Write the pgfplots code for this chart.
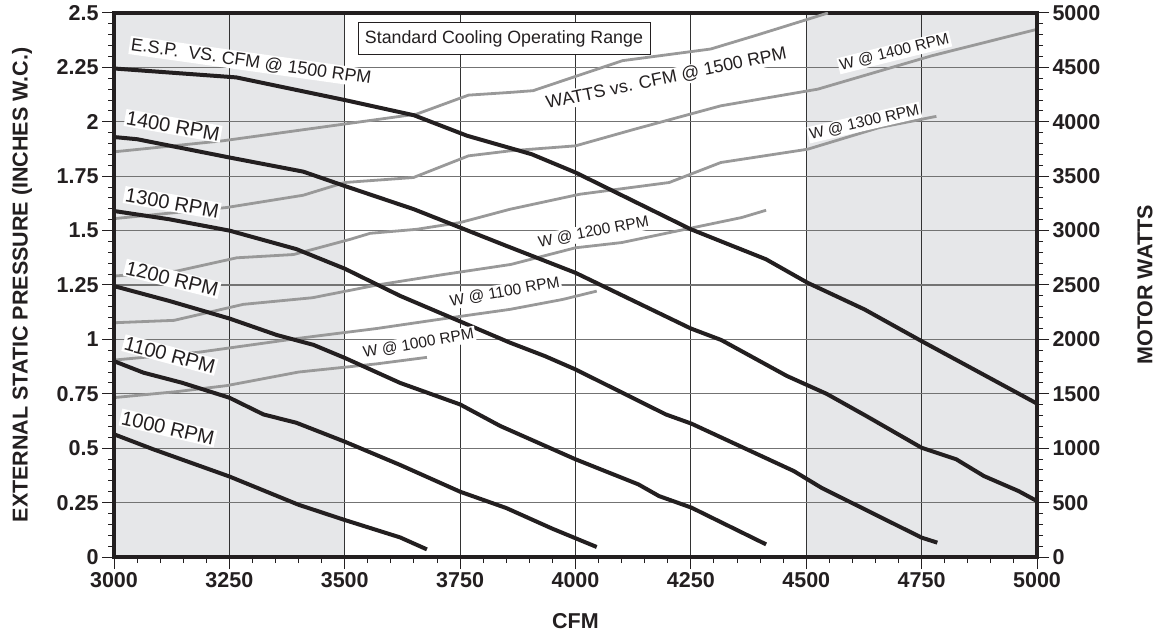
\documentclass[border=0pt]{standalone}
\usepackage{pgfplots}
\pgfplotsset{compat=1.18}
\usepackage{fontspec}
\setmainfont{Liberation Sans}
\definecolor{shade}{HTML}{E6E7E9}
\definecolor{wgray}{HTML}{999999}
\definecolor{ink}{HTML}{231F20}
\tikzset{lab/.style={fill=white, inner sep=1.5pt, text=ink}}

\begin{document}
\begin{tikzpicture}
\pgfplotsset{
  common/.style={
    at={(0pt,0pt)}, anchor=south west, scale only axis, width=923pt, height=544pt,
    xmin=3000, xmax=5000, no markers,
    tick align=outside, major tick length=12pt, minor tick length=6pt,
    tick style={ink, line width=1pt},
    axis line style={line width=4pt, ink},
    tick label style={font=\bfseries\fontsize{21.5}{24}\selectfont, text=ink},
    label style={font=\bfseries\fontsize{21.5}{24}\selectfont, text=ink},
  },
}
% ---------- right axis: motor watts ----------
\begin{axis}[common, set layers,
  ymin=0, ymax=5000,
  xtick={3000,3250,3500,3750,4000,4250,4500,4750,5000},
  xticklabels={3000,3250,3500,3750,4000,4250,4500,4750,5000},
  minor x tick num=4,
  ytick={0,500,1000,1500,2000,2500,3000,3500,4000,4500,5000},
  yticklabels={0,500,1000,1500,2000,2500,3000,3500,4000,4500,5000},
  minor y tick num=4,
  xtick pos=left, ytick pos=right, yticklabel pos=right,
  xmajorgrids, ymajorgrids,
  x grid style={line width=1pt, black!80},
  y grid style={line width=1.3pt, black!55},
  xlabel={CFM}, ylabel={MOTOR WATTS},
  xlabel style={at={(axis description cs:0.5,-0.1176)}, anchor=center},
  ylabel style={at={(axis description cs:1.117,0.5)}, anchor=center},
]
\addplot[draw=none, fill=shade, on layer=axis background] coordinates {(3000,5000) (3500,5000)} \closedcycle;
\addplot[draw=none, fill=shade, on layer=axis background] coordinates {(4500,5000) (5000,5000)} \closedcycle;

% W @ 1500
\addplot[wgray, line width=2.8pt] coordinates {(3000,3724) (3237,3826) (3656,4071) (3768,4245) (3858,4270) (3908,4286) (4102,4562) (4293,4669) (4390,4793) (4547,5000)};
% W @ 1400
\addplot[wgray, line width=2.8pt] coordinates {(3000,3110) (3244,3212) (3410,3325) (3500,3442) (3649,3488) (3768,3687) (3858,3733) (4000,3779) (4129,3933) (4315,4147) (4525,4300) (4772,4607) (5000,4850)};
% W @ 1300
\addplot[wgray, line width=2.8pt] coordinates {(3000,2582) (3136,2628) (3266,2750) (3389,2780) (3512,2920) (3555,2975) (3656,3012) (3750,3074) (3858,3196) (4009,3334) (4203,3442) (4315,3626) (4503,3748) (4659,3948) (4782,4050)};
% W @ 1200
\addplot[wgray, line width=2.8pt] coordinates {(3000,2153) (3130,2175) (3280,2322) (3430,2383) (3570,2500) (3715,2597) (3860,2689) (4000,2842) (4100,2890) (4360,3120) (4413,3187)};
% W @ 1100
\addplot[wgray, line width=2.8pt] coordinates {(3000,1810) (3180,1880) (3400,2010) (3569,2100) (3714,2190) (3858,2276) (3972,2367) (4046,2444)};
% W @ 1000
\addplot[wgray, line width=2.8pt] coordinates {(3000,1465) (3136,1520) (3244,1575) (3400,1700) (3569,1775) (3678,1835)};
\end{axis}

% ---------- left axis: external static pressure ----------
\begin{axis}[common,
  ymin=0, ymax=2.5, hide x axis,
  ytick={0,0.25,0.5,0.75,1,1.25,1.5,1.75,2,2.25,2.5},
  yticklabels={0,0.25,0.5,0.75,1,1.25,1.5,1.75,2,2.25,2.5},
  minor y tick num=4, ytick pos=left,
  ylabel={EXTERNAL STATIC PRESSURE (INCHES W.C.)},
  ylabel style={at={(axis description cs:-0.0997,0.5)}, anchor=center},
]
% 1500 RPM
\addplot[ink, line width=4pt] coordinates {(3000,2.245) (3265,2.204) (3500,2.10) (3650,2.03) (3765,1.936) (3905,1.851) (4000,1.767) (4250,1.506) (4413,1.368) (4503,1.26) (4626,1.138) (4750,0.992) (5000,0.705)};
% 1400 RPM
\addplot[ink, line width=4pt] coordinates {(3000,1.93) (3050,1.92) (3250,1.836) (3410,1.771) (3500,1.705) (3650,1.598) (3850,1.43) (4000,1.306) (4250,1.05) (4316,0.997) (4458,0.832) (4544,0.75) (4630,0.648) (4750,0.502) (4825,0.449) (4885,0.372) (4960,0.303) (5000,0.257)};
% 1300 RPM
\addplot[ink, line width=4pt] coordinates {(3000,1.59) (3120,1.552) (3250,1.50) (3395,1.415) (3500,1.325) (3620,1.20) (3858,0.985) (3934,0.923) (4000,0.862) (4196,0.655) (4251,0.613) (4473,0.395) (4533,0.318) (4750,0.089) (4784,0.066)};
% 1200 RPM
\addplot[ink, line width=4pt] coordinates {(3000,1.245) (3121,1.176) (3250,1.096) (3353,1.02) (3432,0.975) (3500,0.915) (3620,0.80) (3750,0.701) (3837,0.602) (4000,0.449) (4136,0.334) (4181,0.28) (4251,0.227) (4413,0.058)};
% 1100 RPM
\addplot[ink, line width=4pt] coordinates {(3000,0.90) (3064,0.847) (3147,0.801) (3250,0.732) (3324,0.655) (3395,0.617) (3500,0.53) (3620,0.423) (3750,0.30) (3850,0.225) (3950,0.13) (4046,0.046)};
% 1000 RPM
\addplot[ink, line width=4pt] coordinates {(3000,0.564) (3085,0.495) (3250,0.37) (3400,0.24) (3500,0.17) (3620,0.09) (3678,0.035)};

% labels
\node[lab, font=\fontsize{17.8}{18}\selectfont, rotate=-8] at (axis cs:3297,2.275) {E.S.P.\ \ VS. CFM @ 1500 RPM};
\node[lab, font=\fontsize{20}{20}\selectfont, rotate=-10] at (axis cs:3128,1.981) {1400 RPM};
\node[lab, font=\fontsize{20}{20}\selectfont, rotate=-10] at (axis cs:3126,1.627) {1300 RPM};
\node[lab, font=\fontsize{20}{20}\selectfont, rotate=-14] at (axis cs:3126,1.278) {1200 RPM};
\node[lab, font=\fontsize{20}{20}\selectfont, rotate=-15] at (axis cs:3121,0.928) {1100 RPM};
\node[lab, font=\fontsize{20}{20}\selectfont, rotate=-13] at (axis cs:3117,0.593) {1000 RPM};

\node[lab, font=\fontsize{17.8}{18}\selectfont, rotate=11.8] at (axis cs:4197,2.198) {WATTS vs. CFM @ 1500 RPM};
\node[lab, font=\fontsize{15.5}{16}\selectfont, rotate=14] at (axis cs:4691,2.319) {W @ 1400 RPM};
\node[lab, font=\fontsize{15.5}{16}\selectfont, rotate=13] at (axis cs:4626,1.997) {W @ 1300 RPM};
\node[lab, font=\fontsize{15.5}{16}\selectfont, rotate=11] at (axis cs:4039,1.494) {W @ 1200 RPM};
\node[lab, font=\fontsize{15.5}{16}\selectfont, rotate=10] at (axis cs:3847,1.218) {W @ 1100 RPM};
\node[lab, font=\fontsize{15.5}{16}\selectfont, rotate=10] at (axis cs:3660,0.98) {W @ 1000 RPM};

\node[draw=ink, line width=0.8pt, fill=white, text=ink, minimum width=292pt, minimum height=32pt, inner sep=0pt, font=\fontsize{17.8}{18}\selectfont] at (axis cs:3845,2.381) {Standard Cooling Operating Range};
\end{axis}
\pgfresetboundingbox
\path[use as bounding box] (-114pt,-86pt) rectangle (1047pt,557pt);
\end{tikzpicture}
\end{document}
